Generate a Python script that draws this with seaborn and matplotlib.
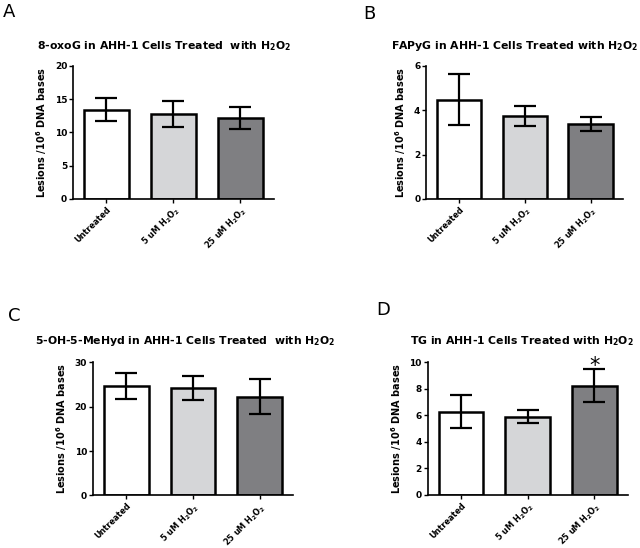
import numpy as np
import pandas as pd
import seaborn as sns
import matplotlib.pyplot as plt

# data
groups = ["Untreated", "5 uM H$_\\mathbf{2}$O$_\\mathbf{2}$", "25 uM H$_\\mathbf{2}$O$_\\mathbf{2}$"]

oxog_mean = [13.4, 12.8, 12.1]
oxog_err = [1.7, 1.95, 1.65]

fapyg_mean = [4.47, 3.74, 3.36]
fapyg_err = [1.16, 0.46, 0.31]

mehyd_mean = [24.7, 24.2, 22.2]
mehyd_err = [2.95, 2.7, 3.95]

tg_mean = [6.27, 5.89, 8.22]
tg_err = [1.24, 0.51, 1.25]

titles = ["8-oxoG in AHH-1 Cells Treated  with $\\mathbf{H_2O_2}$",
          "FAPyG in AHH-1 Cells Treated with $\\mathbf{H_2O_2}$",
          "5-OH-5-MeHyd in AHH-1 Cells Treated  with $\\mathbf{H_2O_2}$",
          "TG in AHH-1 Cells Treated with $\\mathbf{H_2O_2}$"]
letters = ["A", "B", "C", "D"]
ymax = [20, 6, 30, 10]
yticks = [[0, 5, 10, 15, 20], [0, 2, 4, 6], [0, 10, 20, 30], [0, 2, 4, 6, 8, 10]]

means = [oxog_mean, fapyg_mean, mehyd_mean, tg_mean]
errs = [oxog_err, fapyg_err, mehyd_err, tg_err]

sns.set_style("ticks")
plt.rcParams['font.family'] = ['DejaVu Sans']
plt.rcParams['text.color'] = 'black'
plt.rcParams['axes.labelcolor'] = 'black'
plt.rcParams['xtick.color'] = 'black'
plt.rcParams['ytick.color'] = 'black'
plt.rcParams['axes.edgecolor'] = 'black'

colors = ["#ffffff", "#d5d6d8", "#7e7f83"]

fig = plt.figure(figsize=(6.4, 5.48), dpi=100)
# axes boxes [left, bottom, width, height]
boxes = [[0.114, 0.637, 0.314, 0.243],
         [0.666, 0.637, 0.308, 0.243],
         [0.145, 0.096, 0.313, 0.243],
         [0.668, 0.097, 0.313, 0.242]]
letter_pos = [(0.005, 0.994), (0.568, 0.991), (0.012, 0.44), (0.588, 0.45)]
title_x = [0.257, 0.804, 0.29, 0.815]
title_y = [0.916, 0.916, 0.378, 0.378]

for i in range(4):
    ax = fig.add_axes(boxes[i])
    df = pd.DataFrame({"group": groups, "value": means[i]})
    sns.barplot(data=df, x="group", y="value", hue="group", palette=colors,
                legend=False, width=0.67, edgecolor="black", linewidth=1.8,
                errorbar=None, ax=ax)
    ax.errorbar(np.arange(3), means[i], yerr=errs[i], fmt="none",
                ecolor="black", elinewidth=1.6, capsize=8, capthick=1.6)
    ax.set_ylim(0, ymax[i])
    ax.set_xlim(-0.5, 2.5)
    ax.set_yticks(yticks[i])
    ax.set_yticklabels([str(t) for t in yticks[i]], fontsize=6.5, fontweight="bold")
    ax.set_xticks(range(3))
    ax.set_xticklabels(groups, rotation=45, ha="right", rotation_mode="anchor",
                       fontsize=5.9, fontweight="bold")
    ax.set_xlabel("")
    ax.set_ylabel("Lesions /10$^{\\mathbf{6}}$ DNA bases", fontsize=7, fontweight="bold")
    ax.tick_params(length=3, width=1, pad=1.2)
    for s in ["left", "bottom"]:
        ax.spines[s].set_linewidth(1.2)
    sns.despine(ax=ax)
    fig.text(title_x[i], title_y[i], titles[i], fontsize=7.8, fontweight="bold",
             ha="center", va="center")
    fig.text(letter_pos[i][0], letter_pos[i][1], letters[i], fontsize=13,
             ha="left", va="top")
    if i == 3:
        ax.text(2, 9.7, "*", fontsize=15, ha="center", va="center", clip_on=False)

fig.savefig("out.png", dpi=100)
